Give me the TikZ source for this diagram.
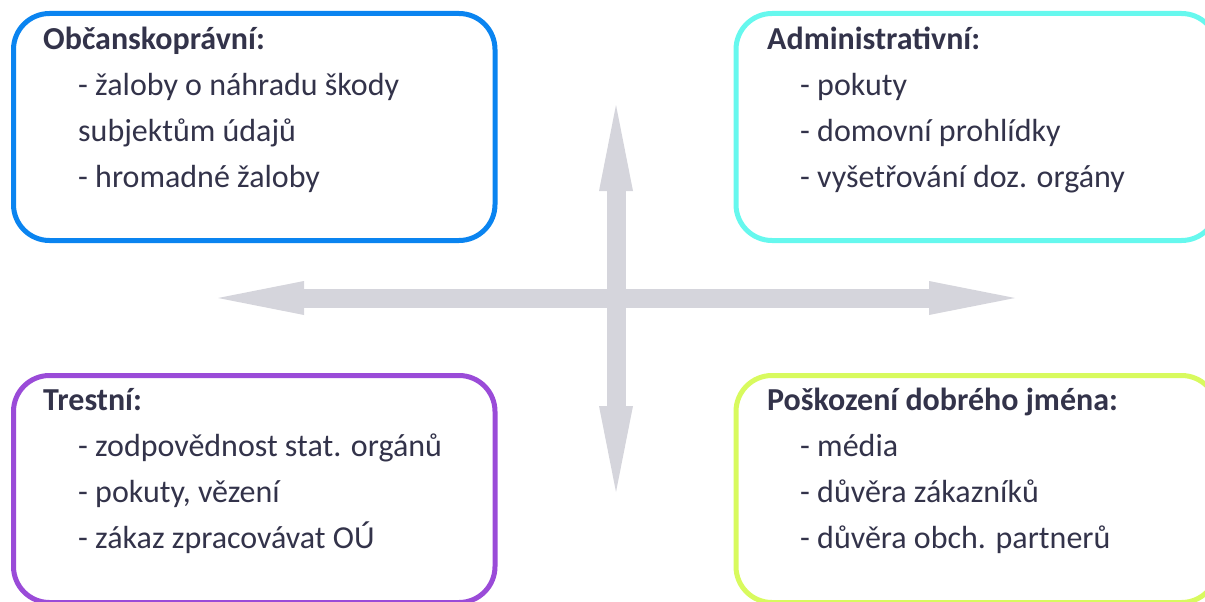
\documentclass[tikz,border=0pt]{standalone}
\usepackage{fontspec}
\setmainfont{Carlito}
\usetikzlibrary{arrows.meta,positioning}

\definecolor{civilblue}{HTML}{0A84F0}
\definecolor{admincyan}{HTML}{66F8EE}
\definecolor{crimpurple}{HTML}{9A4BD8}
\definecolor{reputelime}{HTML}{D8FA5E}
\definecolor{inkgrey}{HTML}{33334A}
\definecolor{arrowgrey}{HTML}{D5D5DC}

\tikzset{
  panel/.style={draw, line width=5pt, rounded corners=36pt, minimum width=481.5pt,
    minimum height=227pt, inner sep=0pt, outer sep=0pt},
  paneltext/.style={anchor=north west, inner sep=0pt, align=left, text=inkgrey,
    font=\fontsize{32}{46}\selectfont},
  bigarrow/.style={draw=arrowgrey, line width=19pt,
    {Triangle[length=86pt,width=34pt,line width=0pt]}-{Triangle[length=86pt,width=34pt,line width=0pt]}}
}

\begin{document}
\begin{tikzpicture}[x=1pt,y=-1pt]
        \useasboundingbox (0,0) rectangle (1205,602);
        \clip (0,0) rectangle (1205,602);

        % cross of arrows
        \coordinate (west) at (218,298);
        \coordinate (east) at (1015,298);
        \coordinate (north) at (616,105);
        \coordinate (south) at (616,492);
        \draw[bigarrow] (west) -- (east);
        \draw[bigarrow] (north) -- (south);

        % the four panels
        \node[panel, draw=civilblue] (civil) at (254.25,127) {};
        \node[panel, draw=admincyan] (admin) at (976.75,127) {};
        \node[panel, draw=crimpurple] (crim) at (254.25,489) {};
        \node[panel, draw=reputelime] (repute) at (976.75,489) {};

        \node[paneltext] (civiltext) at ([shift={(29.5,3.3)}]civil.north west)
          {\strut\textbf{Občanskoprávní:}\\
           \hspace*{35pt}\strut- žaloby o náhradu škody\\
           \hspace*{35pt}\strut subjektům údajů\\
           \hspace*{35pt}\strut- hromadné žaloby};
        \node[paneltext] (admintext) at ([shift={(31,3.3)}]admin.north west)
          {\strut\textbf{Administrativní:}\\
           \hspace*{33pt}\strut- pokuty\\
           \hspace*{33pt}\strut- domovní prohlídky\\
           \hspace*{33pt}\strut- vyšetřování doz. orgány};
        \node[paneltext] (crimtext) at ([shift={(29.5,2.8)}]crim.north west)
          {\strut\textbf{Trestní:}\\
           \hspace*{35pt}\strut- zodpovědnost stat. orgánů\\
           \hspace*{35pt}\strut- pokuty, vězení\\
           \hspace*{35pt}\strut- zákaz zpracovávat OÚ};
        \node[paneltext] (reputetext) at ([shift={(31,2.8)}]repute.north west)
          {\strut\textbf{Poškození dobrého jména:}\\
           \hspace*{33pt}\strut- média\\
           \hspace*{33pt}\strut- důvěra zákazníků\\
           \hspace*{33pt}\strut- důvěra obch. partnerů};
    \end{tikzpicture}
\end{document}
